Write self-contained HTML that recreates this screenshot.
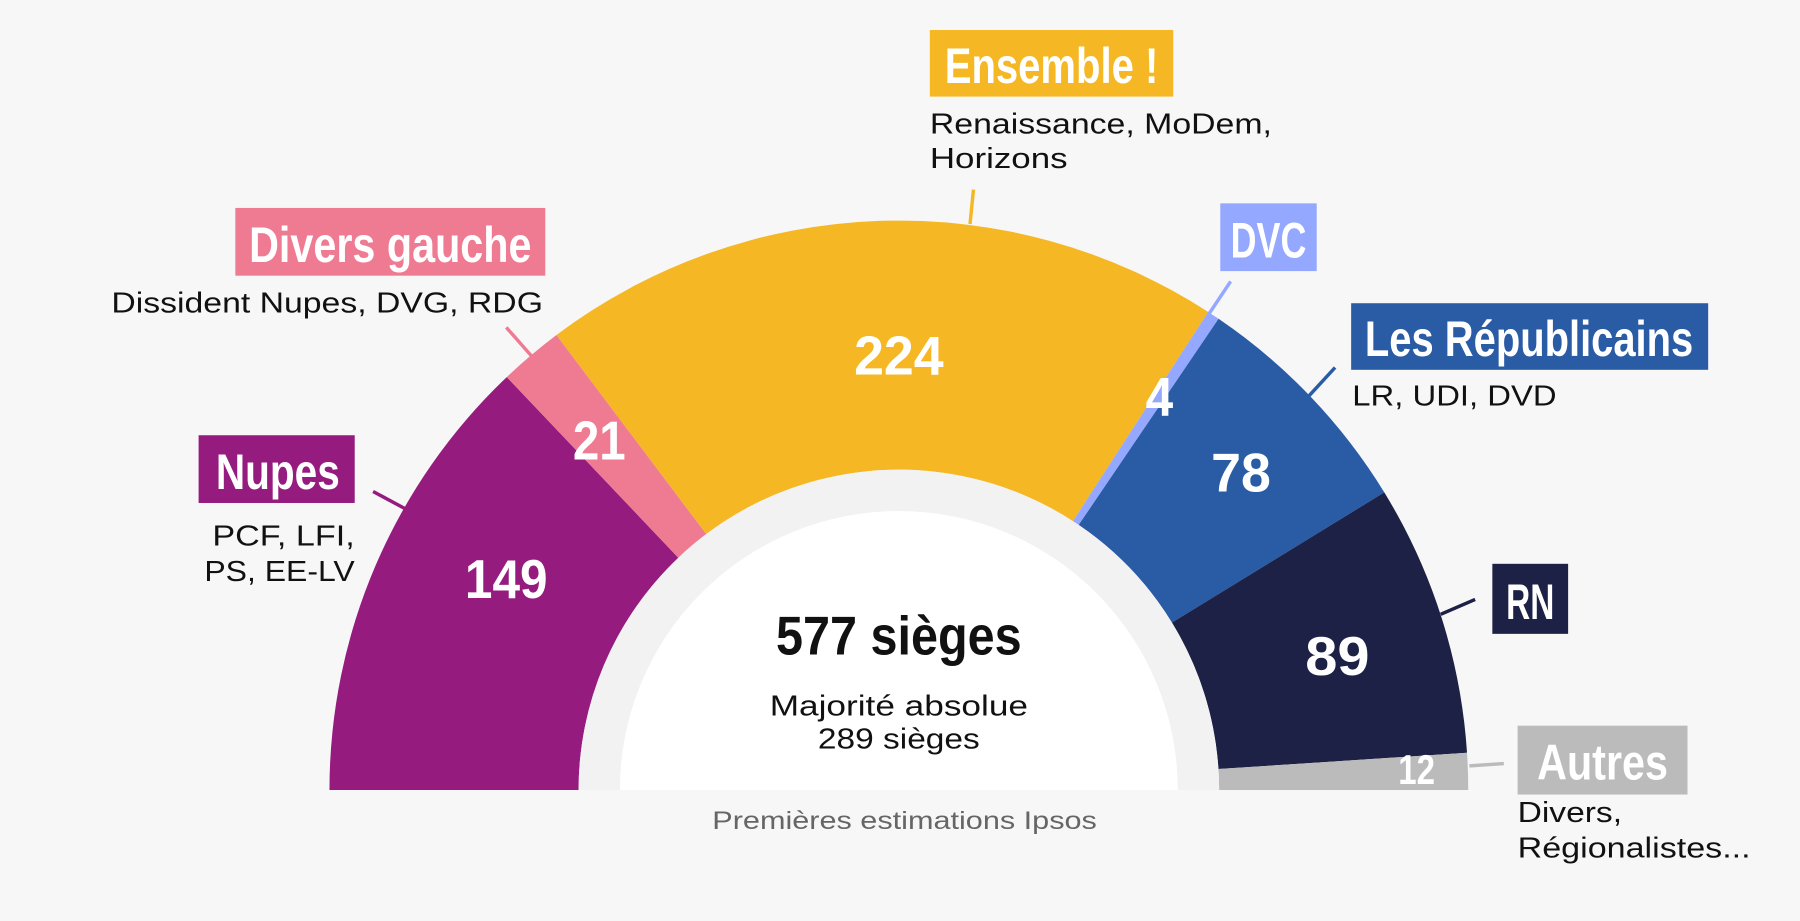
<!DOCTYPE html>
<html><head><meta charset="utf-8"><style>
html,body{margin:0;padding:0;background:#f7f7f7;}
svg{display:block;}
.c{font-family:"Liberation Sans Narrow","Liberation Sans",sans-serif;font-weight:bold;}
.t{font-family:"Liberation Sans",sans-serif;}
</style></head><body>
<svg id="s" width="1800" height="921" viewBox="0 0 1568 802" xmlns="http://www.w3.org/2000/svg">
<rect width="1568" height="802" fill="#f7f7f7"/>
<g id="segs"></g>
<path d="M504,688 A279,279 0 0 1 1062,688 Z" fill="#f2f2f2"/>
<path d="M540,688 A243,243 0 0 1 1026,688 Z" fill="#ffffff"/>
<g stroke-width="3">
<line x1="848" y1="165" x2="845" y2="195" stroke="#f5b824"/>
<line x1="441" y1="285" x2="463" y2="310" stroke="#ef7b93"/>
<line x1="325" y1="428" x2="353" y2="443" stroke="#951b7e"/>
<line x1="1072" y1="245" x2="1052" y2="275" stroke="#94a8ff"/>
<line x1="1163" y1="320" x2="1140" y2="345" stroke="#2a5ba5"/>
<line x1="1285" y1="522" x2="1255" y2="535" stroke="#1c2145"/>
<line x1="1310" y1="665" x2="1280" y2="667" stroke="#bbbbbb"/>
</g>
<rect x="810" y="26" width="212" height="58" fill="#f5b824"/>
<text class="c" x="916" y="72" font-size="44" fill="#fff" text-anchor="middle" textLength="186" lengthAdjust="spacingAndGlyphs">Ensemble !</text>
<text class="t" x="810" y="116" font-size="25" fill="#111" textLength="298" lengthAdjust="spacingAndGlyphs">Renaissance, MoDem,</text>
<text class="t" x="810" y="146" font-size="25" fill="#111" textLength="120" lengthAdjust="spacingAndGlyphs">Horizons</text>

<rect x="205" y="181" width="270" height="59" fill="#ef7b93"/>
<text class="c" x="340" y="228" font-size="44" fill="#fff" text-anchor="middle" textLength="246" lengthAdjust="spacingAndGlyphs">Divers gauche</text>
<text class="t" x="97" y="272" font-size="25" fill="#111" textLength="376" lengthAdjust="spacingAndGlyphs">Dissident Nupes, DVG, RDG</text>

<rect x="173" y="379" width="136" height="59" fill="#951b7e"/>
<text class="c" x="242" y="426" font-size="44" fill="#fff" text-anchor="middle" textLength="108" lengthAdjust="spacingAndGlyphs">Nupes</text>
<text class="t" x="185" y="475" font-size="25" fill="#111" textLength="124" lengthAdjust="spacingAndGlyphs">PCF,  LFI,</text>
<text class="t" x="178" y="506" font-size="25" fill="#111" textLength="131" lengthAdjust="spacingAndGlyphs">PS, EE-LV</text>

<rect x="1063" y="177" width="84" height="59" fill="#94a8ff"/>
<text class="c" x="1105" y="224" font-size="44" fill="#fff" text-anchor="middle" textLength="66" lengthAdjust="spacingAndGlyphs">DVC</text>

<rect x="1177" y="264" width="311" height="58" fill="#2a5ba5"/>
<text class="c" x="1332" y="310" font-size="44" fill="#fff" text-anchor="middle" textLength="286" lengthAdjust="spacingAndGlyphs">Les Républicains</text>
<text class="t" x="1178" y="353" font-size="25" fill="#111" textLength="178" lengthAdjust="spacingAndGlyphs">LR, UDI, DVD</text>

<rect x="1300" y="491" width="66" height="61" fill="#1c2145"/>
<text class="c" x="1333" y="539" font-size="44" fill="#fff" text-anchor="middle" textLength="42" lengthAdjust="spacingAndGlyphs">RN</text>

<rect x="1322" y="632" width="148" height="60" fill="#bbbbbb"/>
<text class="c" x="1396" y="679" font-size="44" fill="#fff" text-anchor="middle" textLength="114" lengthAdjust="spacingAndGlyphs">Autres</text>
<text class="t" x="1322" y="716" font-size="25" fill="#111" textLength="91" lengthAdjust="spacingAndGlyphs">Divers,</text>
<text class="t" x="1322" y="747" font-size="25" fill="#111" textLength="203" lengthAdjust="spacingAndGlyphs">Régionalistes...</text>

<g class="c" fill="#fff" font-size="48" text-anchor="middle">
<text x="441" y="521" textLength="72" lengthAdjust="spacingAndGlyphs">149</text>
<text x="522" y="400" textLength="46" lengthAdjust="spacingAndGlyphs">21</text>
<text x="783" y="326" textLength="78" lengthAdjust="spacingAndGlyphs">224</text>
<text x="1010" y="362" textLength="24" lengthAdjust="spacingAndGlyphs">4</text>
<text x="1081" y="428" textLength="52" lengthAdjust="spacingAndGlyphs">78</text>
<text x="1165" y="588" textLength="56" lengthAdjust="spacingAndGlyphs">89</text>
<text x="1234" y="683" font-size="36" textLength="32" lengthAdjust="spacingAndGlyphs">12</text>
</g>
<text class="c" x="783" y="570" font-size="48" fill="#111" text-anchor="middle" textLength="214" lengthAdjust="spacingAndGlyphs">577 sièges</text>
<text class="t" x="783" y="623" font-size="25" fill="#111" text-anchor="middle" textLength="225" lengthAdjust="spacingAndGlyphs">Majorité absolue</text>
<text class="t" x="783" y="652" font-size="25" fill="#111" text-anchor="middle" textLength="141" lengthAdjust="spacingAndGlyphs">289 sièges</text>
<text class="t" x="788" y="722" font-size="22" fill="#666" text-anchor="middle" textLength="335" lengthAdjust="spacingAndGlyphs">Premières estimations Ipsos</text>
</svg>
<script>
(function(){
var cx=783,cy=688,R=496,r=279;
var data=[[149,"#951b7e"],[21,"#ef7b93"],[224,"#f5b824"],[4,"#94a8ff"],[78,"#2a5ba5"],[89,"#1c2145"],[12,"#bbbbbb"]];
var g=document.getElementById("segs"),c=0,ns="http://www.w3.org/2000/svg";
function pt(rad,a){var t=a*Math.PI/180;return [(cx-rad*Math.cos(t)).toFixed(2),(cy-rad*Math.sin(t)).toFixed(2)];}
data.forEach(function(d){
 var a0=c/577*180;c+=d[0];var a1=c/577*180;
 var p1=pt(R,a0),p2=pt(R,a1),p3=pt(r,a1),p4=pt(r,a0);
 var p=document.createElementNS(ns,"path");
 p.setAttribute("d","M"+p1+" A"+R+","+R+" 0 0 1 "+p2+" L"+p3+" A"+r+","+r+" 0 0 0 "+p4+" Z");
 p.setAttribute("fill",d[1]);
 g.appendChild(p);
});
})();
</script>
</body></html>
